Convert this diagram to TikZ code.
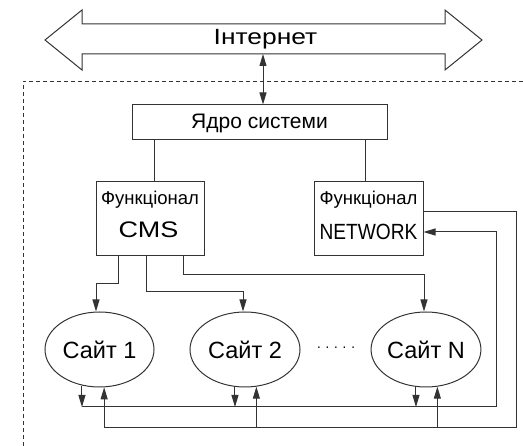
\documentclass[tikz,border=0pt]{standalone}
\usepackage{fontspec}
\setmainfont{Liberation Sans}
\usetikzlibrary{arrows.meta}
\usetikzlibrary{shapes.geometric}
\tikzset{
	% boxes, sites and connectors of the scheme
	plain box/.style={rectangle,draw=black!80,line width=1pt,inner sep=0},
	site node/.style={ellipse,draw=black!80,line width=1pt,inner sep=0,minimum width=109pt,minimum height=75pt,font=\fontsize{23.5}{26}\selectfont},
	link/.style={draw=black!80,line width=1pt},
	arrow to/.style={-{Triangle[length=12pt,width=7pt]}},
	arrow both/.style={{Triangle[length=12pt,width=7pt]}-{Triangle[length=12pt,width=7pt]}},
	small text/.style={anchor=base,font=\fontsize{18.5}{20}\selectfont},
	big text/.style={anchor=base,font=\fontsize{22.5}{28}\selectfont}
}

\begin{document}
\begin{tikzpicture}[x=1pt,y=-1pt]
\useasboundingbox (0,0) rectangle (523,446);

% system frame (dashed, open to the right and below)
\draw[black!80,line width=0.7pt,dash pattern=on 4pt off 3pt] (523,81) -- (23,81) -- (23,446);

% Internet (wide double arrow)
\draw[link] (45,40) -- (82,10) -- (82,24) -- (445,24) -- (445,10) -- (482,40)
	-- (445,70) -- (445,54) -- (82,54) -- (82,70) -- cycle;
\node(inet)[anchor=base,font=\fontsize{22}{26}\selectfont] at (265.5,45) {\scalebox{1.2}[1]{Інтернет}};
\coordinate(inet bottom) at (263,54);

% core of the system
\node(core)[plain box,minimum width=255pt,minimum height=35pt] at (259.5,122.5) {};
\node(core text)[anchor=base,font=\fontsize{21}{24}\selectfont] at (259.5,128.5) {Ядро системи};
\draw[link,arrow both] (inet bottom) -- (inet bottom |- core.north);

% functional blocks
\node(cms)[plain box,minimum width=108pt,minimum height=74pt] at (150,219) {};
\node(cms title)[small text] at (150,205) {Функціонал};
\node(cms name)[big text] at (148.5,237.5) {\scalebox{1.2}[1]{CMS}};
\node(net)[plain box,minimum width=109pt,minimum height=74pt] at (368.5,219) {};
\node(net title)[small text] at (368.5,205) {Функціонал};
\node(net name)[big text,font=\fontsize{22}{26}\selectfont] at (368.5,239.5) {\scalebox{0.87}[1]{NETWORK}};
\draw[link] ([xshift=4pt]cms.north) -- ([xshift=4pt]cms.north |- core.south);
\draw[link] ([xshift=-3.5pt]net.north) -- ([xshift=-3.5pt]net.north |- core.south);

% sites
\node(s1)[site node] at (99.5,349.5) {Сайт 1};
\node(s2)[site node,minimum width=110pt] at (245,349.5) {Сайт 2};
\node(sN)[site node,minimum width=108pt] at (426,349.5) {Сайт N};
\node(dots)[font=\fontsize{14}{16}\selectfont] at (336,349) {· · · · ·};

% CMS to the sites
\draw[link,arrow to] ([xshift=-32pt]cms.south) |- ([xshift=-3.5pt,yshift=28pt]s1.north) -- ([xshift=-3.5pt]s1.north);
\draw[link,arrow to] ([xshift=-3.3pt]cms.south) |- ([xshift=-2pt,yshift=20pt]s2.north) -- ([xshift=-2pt]s2.north);
\draw[link,arrow to] ([xshift=33pt]cms.south) |- ([xshift=-2pt,yshift=37pt]sN.north) -- ([xshift=-2pt]sN.north);

% buses between the sites and NETWORK
\coordinate(bus in) at (496,407);
\coordinate(bus out) at (516,428);
\draw[link,arrow to] (s1.244 |- bus in) -- (bus in) |- ([yshift=-13pt]net.east);
\draw[link] ([yshift=7pt]net.east) -| (bus out) -- (s1.277 |- bus out);
\foreach \s/\d/\u in {s1/244/277,s2/255/287,sN/255/287}{
	\draw[link,arrow to] (\s.\d) -- (\s.\d |- bus in);
	\draw[link,arrow to] (\s.\u |- bus out) -- (\s.\u);
}

\end{tikzpicture}
\end{document}
